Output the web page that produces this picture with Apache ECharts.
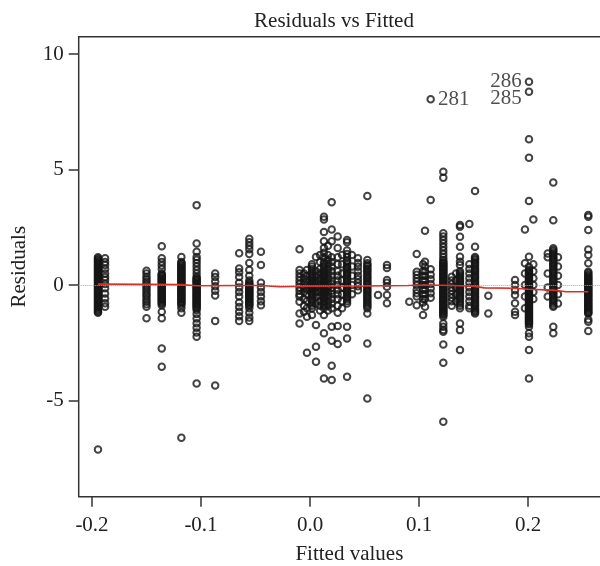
<!DOCTYPE html>
<html><head><meta charset="utf-8">
<script src="https://cdn.jsdelivr.net/npm/echarts@6/dist/echarts.min.js"></script>
<style>html,body{margin:0;padding:0;background:#fff}#chart{width:600px;height:566px}</style>
</head><body><div id="chart"></div>
<script>
// ---- data ----
const xTicks = [-0.2, -0.1, 0.0, 0.1, 0.2];
const yTicks = [-5, 0, 5, 10];

const fittedLevels = [
  -0.1945, -0.188, -0.150, -0.136, -0.118, -0.104, -0.087, -0.065, -0.0557, -0.045,
  -0.0096, -0.0055, -0.0028, 0.0018, 0.0055, 0.0092, 0.0128, 0.0165, 0.0199, 0.0254,
  0.0294, 0.034, 0.0385, 0.044, 0.0526, 0.0624, 0.0706,
  0.0911, 0.0979, 0.1037, 0.1055, 0.1107, 0.1223, 0.130, 0.134, 0.1376, 0.1462, 0.1514, 0.1636,
  0.1881, 0.1972, 0.2009, 0.2049, 0.2181, 0.2232, 0.2275, 0.2553
];
const c01 = [1.2, 1.15, 1.05, 0.95, 0.85, 0.75, 0.65, 0.55, 0.45, 0.35, 0.25, 0.15, 0.05, -0.05, -0.15, -0.25, -0.35, -0.45, -0.55, -0.65, -0.75, -0.85, -0.95, -1.05, -1.15, -1.2, -7.12];
const c02 = [1.16, 1.0, 0.87, 0.7, 0.5, 0.35, 0.22, 0.05, -0.14, -0.36, -0.58, -0.79, -0.94];
const c03 = [0.62, 0.5, 0.36, 0.25, 0.14, 0.03, -0.07, -0.18, -0.29, -0.4, -0.5, -0.61, -0.72, -0.83, -0.94, -1.44];
const c04 = [1.68, 1.16, 1.0, 0.85, 0.7, 0.5, 0.4, 0.3, 0.2, 0.1, 0.0, -0.1, -0.2, -0.3, -0.4, -0.5, -0.6, -0.7, -0.8, -0.87, -1.15, -1.44, -2.75, -3.54];
const c05 = [1.22, 1.0, 0.9, 0.8, 0.7, 0.6, 0.5, 0.4, 0.3, 0.2, 0.1, 0.0, -0.1, -0.2, -0.3, -0.4, -0.5, -0.6, -0.7, -0.8, -0.87, -1.0, -1.2, -6.61];
const c06 = [3.46, 1.8, 1.44, 1.22, 1.1, 0.95, 0.8, 0.65, 0.5, 0.36, 0.25, 0.15, 0.05, -0.05, -0.15, -0.25, -0.35, -0.45, -0.55, -0.65, -0.75, -0.85, -0.95, -1.08, -1.25, -1.45, -1.65, -1.85, -2.05, -2.24, -4.26];
const c07 = [0.5, 0.35, 0.15, -0.05, -0.25, -0.45, -1.55, -4.35];
const c08 = [1.38, 0.72, 0.55, 0.35, 0.1, -0.1, -0.3, -0.5, -0.75, -0.95, -1.15, -1.35, -1.55];
const c09 = [2.0, 1.85, 1.7, 1.55, 1.35, 0.95, 0.65, 0.4, 0.2, 0.1, 0.0, -0.1, -0.2, -0.3, -0.4, -0.5, -0.6, -0.7, -0.8, -0.9, -1.0, -1.2, -1.4, -1.55];
const c10 = [1.44, 0.87, 0.1, -0.1, -0.3, -0.5, -0.7, -0.87];
const c11 = [1.55, 0.65, 0.5, 0.35, 0.2, 0.05, -0.1, -0.25, -0.4, -0.5, -0.72, -1.23, -1.66];
const c12 = [0.5, 0.3, 0.1, -0.1, -0.3, -0.6, -0.9, -1.15];
const c13 = [0.65, 0.4, 0.2, 0.0, -0.2, -0.4, -0.7, -1.0, -1.37, -2.93];
const c14 = [0.9, 0.7, 0.5, 0.35, 0.2, 0.1, 0.0, -0.1, -0.2, -0.35, -0.5, -0.65, -0.8, -1.0, -1.3];
const c15 = [1.22, 0.6, 0.4, 0.2, 0.05, -0.1, -0.3, -0.5, -0.8, -1.73, -2.67, -3.32];
const c16 = [1.3, 1.0, 0.7, 0.5, 0.3, 0.15, 0.0, -0.15, -0.3, -0.5, -0.7, -0.9, -1.1];
const c17 = [2.96, 2.84, 2.3, 1.9, 1.6, 1.4, 1.2, 1.0, 0.8, 0.6, 0.45, 0.3, 0.15, 0.0, -0.15, -0.3, -0.45, -0.6, -0.8, -1.0, -1.3, -2.09, -4.04];
const c18 = [1.7, 1.3, 1.1, 0.9, 0.7, 0.5, 0.3, 0.1, -0.1, -0.3, -0.5, -0.7, -0.9, -1.1];
const c19 = [3.58, 2.4, 1.9, 1.2, 1.0, 0.8, 0.6, 0.4, 0.2, 0.05, -0.1, -0.25, -0.4, -0.6, -0.8, -1.0, -1.8, -2.41, -3.49, -4.11];
const c20 = [2.1, 1.6, 1.2, 0.9, 0.6, 0.4, 0.2, 0.0, -0.2, -0.4, -0.6, -0.9, -1.2, -1.77, -2.55];
const c21 = [1.3, 0.9, 0.5, 0.2, -0.1, -0.4, -0.7, -1.0];
const c22 = [1.95, 1.85, 1.5, 1.35, 1.2, 1.05, 0.9, 0.75, 0.6, 0.45, 0.3, 0.15, 0.0, -0.15, -0.3, -0.45, -0.6, -0.8, -1.8, -2.31, -3.97];
const c23 = [1.3, 0.8, 0.4, 0.0, -0.4];
const c24 = [1.16, 0.95, 0.79, 0.6, 0.4, 0.25, 0.1, -0.05, -0.22];
const c25 = [3.85, 1.08, 0.94, 0.8, 0.65, 0.5, 0.35, 0.2, 0.05, -0.1, -0.25, -0.4, -0.55, -0.7, -0.85, -1.0, -1.23, -2.53, -4.91];
const c26 = [-0.43];
const c27 = [0.87, 0.74, 0.22, 0.1, -0.07, -0.43, -0.79];
const c28 = [-0.72];
const c29 = [1.34, 0.58, 0.45, 0.3, 0.15, 0.0, -0.2, -0.35, -0.5, -0.87];
const c30 = [0.9, 0.6, 0.4, 0.2, 0.0, -0.2, -0.4, -0.6, -0.75, -1.3];
const c31 = [2.35, 1.01, 0.8, 0.6, 0.4, 0.2, 0.0, -0.2, -0.4, -0.6, -0.94];
const c32 = [3.68, 0.68, 0.45, 0.25, 0.05, -0.15, -0.35, -0.55];
const c33 = [4.9, 4.65, 2.24, 2.1, 1.95, 1.8, 1.65, 1.5, 1.35, 1.2, 1.08, 0.95, 0.85, 0.75, 0.65, 0.55, 0.45, 0.35, 0.25, 0.15, 0.05, -0.05, -0.15, -0.25, -0.35, -0.45, -0.55, -0.65, -0.75, -0.85, -0.95, -1.05, -1.15, -1.25, -1.37, -1.66, -1.8, -1.95, -2.02, -2.57, -3.36, -5.92];
const c34 = [0.36, 0.2, 0.05, -0.1, -0.25, -0.4, -0.55, -0.7, -0.9];
const c35 = [0.5, 0.2, -0.1, -0.4, -0.7];
const c36 = [2.6, 2.52, 2.09, 1.66, 1.23, 1.01, 0.87, 0.6, 0.45, 0.3, 0.15, 0.0, -0.15, -0.3, -0.45, -0.6, -0.8, -1.0, -1.66, -1.95, -2.81];
const c37 = [2.64, 0.9, 0.7, 0.5, 0.3, 0.1, -0.1, -0.3, -0.5, -0.7, -0.9, -1.0];
const c38 = [4.07, 1.66, 1.22, 1.1, 0.95, 0.8, 0.65, 0.5, 0.35, 0.2, 0.05, -0.1, -0.25, -0.4, -0.55, -0.7, -0.85, -1.0, -1.12, -1.23];
const c39 = [-0.46, -1.23];
const c40 = [0.22, 0.0, -0.22, -0.43, -0.79, -1.15, -1.3];
const c41 = [2.41, 0.94, 0.5, 0.0, -0.5, -1.0];
const c42 = [6.31, 5.51, 3.64, 1.23, 0.79, 0.65, 0.55, 0.45, 0.35, 0.25, 0.15, 0.05, -0.05, -0.15, -0.25, -0.35, -0.45, -0.55, -0.65, -0.75, -0.85, -0.95, -1.05, -1.15, -1.25, -1.35, -1.45, -1.55, -1.65, -1.8, -2.09, -2.24, -2.81, -4.04];
const c43 = [2.84, 0.9, 0.6, 0.3, 0.0, -0.3, -0.6];
const c44 = [1.37, 1.2, 0.5, -0.1, -0.5];
const c45 = [4.44, 2.81, 1.59, 1.45, 1.3, 1.15, 1.0, 0.85, 0.7, 0.55, 0.4, 0.25, 0.1, -0.05, -0.2, -0.35, -0.5, -0.65, -0.8, -0.94, -1.8, -2.09];
const c46 = [1.2, 0.8, 0.4, 0.0, -0.4, -0.8];
const c47 = [3.03, 2.96, 2.38, 1.54, 1.3, 0.94, 0.58, 0.45, 0.35, 0.25, 0.15, 0.05, -0.05, -0.15, -0.25, -0.35, -0.45, -0.55, -0.65, -0.75, -0.85, -0.95, -1.05, -1.15, -1.23, -1.49, -1.59, -1.99];
const residualsByLevel = [c01,c02,c03,c04,c05,c06,c07,c08,c09,c10,c11,c12,c13,c14,c15,c16,c17,c18,c19,c20,c21,c22,c23,c24,c25,c26,c27,c28,c29,c30,c31,c32,c33,c34,c35,c36,c37,c38,c39,c40,c41,c42,c43,c44,c45,c46,c47];

// further overlapping points in the solid-looking cores of the densest columns
const coreLevels = [-0.1945, -0.136, -0.118, -0.104, -0.0557, 0.0018, 0.0128, 0.034, 0.0526, 0.1223, 0.1376, 0.1514, 0.2009, 0.2232, 0.2553];
const d01 = [1.1, 1.0, 0.9, 0.8, 0.7, 0.6, 0.5, 0.4, 0.3, 0.2, 0.1, 0.0, -0.1, -0.2, -0.3, -0.4, -0.5, -0.6, -0.7, -0.8, -0.9, -1.0, -1.1];
const d02 = [0.45, 0.35, 0.25, 0.15, 0.05, -0.05, -0.15, -0.25, -0.35, -0.45, -0.55, -0.65, -0.75];
const d03 = [0.95, 0.85, 0.75, 0.65, 0.55, 0.45, 0.35, 0.25, 0.15, 0.05, -0.05, -0.15, -0.25, -0.35, -0.45, -0.55, -0.65, -0.75];
const d04 = [0.3, 0.2, 0.1, 0.0, -0.1, -0.2, -0.3, -0.4, -0.5, -0.6, -0.7, -0.8, -0.9, -1.0];
const d05 = [0.05, -0.05, -0.15, -0.25, -0.35, -0.45, -0.55, -0.65, -0.75, -0.85];
const d06 = [0.8, 0.6, 0.42, 0.28, 0.15, 0.05, -0.05, -0.15, -0.28, -0.42, -0.58, -0.72, -0.9];
const d07 = [0.9, 0.7, 0.5, 0.38, 0.22, 0.08, -0.08, -0.22, -0.38, -0.52, -0.7, -0.9];
const d08 = [1.0, 0.8, 0.68, 0.52, 0.38, 0.22, 0.08, -0.08, -0.22, -0.38, -0.52, -0.7];
const d09 = [0.87, 0.72, 0.58, 0.42, 0.28, 0.12, -0.02, -0.18, -0.32, -0.48, -0.62, -0.78, -0.92];
const d10 = [1.0, 0.9, 0.8, 0.7, 0.6, 0.5, 0.4, 0.3, 0.2, 0.1, 0.0, -0.1, -0.2, -0.3, -0.4, -0.5, -0.6, -0.7, -0.8, -0.9, -1.0, -1.1, -1.2, -1.3];
const d11 = [0.52, 0.38, 0.22, 0.08, -0.08, -0.22, -0.38, -0.52, -0.7, -0.9];
const d12 = [1.15, 1.02, 0.88, 0.72, 0.58, 0.42, 0.28, 0.12, -0.02, -0.18, -0.32, -0.48, -0.62, -0.78, -0.92, -1.06, -1.18];
const d13 = [0.6, 0.5, 0.4, 0.3, 0.2, 0.1, 0.0, -0.1, -0.2, -0.3, -0.4, -0.5, -0.6, -0.7, -0.8, -0.9, -1.0, -1.1, -1.2, -1.3, -1.4, -1.5, -1.6, -1.7];
const d14 = [1.52, 1.38, 1.22, 1.08, 0.92, 0.78, 0.62, 0.48, 0.32, 0.18, 0.02, -0.12, -0.28, -0.42, -0.58, -0.72, -0.88];
const d15 = [0.52, 0.4, 0.3, 0.2, 0.1, 0.0, -0.1, -0.2, -0.3, -0.4, -0.5, -0.6, -0.7, -0.8, -0.9, -1.0, -1.1, -1.2];
const coreResiduals = [d01,d02,d03,d04,d05,d06,d07,d08,d09,d10,d11,d12,d13,d14,d15];

// labelled outliers
const labelIds = ['281', '285', '286'];
const labelFitted = [0.1107, 0.2009, 0.2009];
const labelResid = [8.04, 8.37, 8.80];

// smoother (red line)
const smoothX = [-0.1945, -0.150, -0.118, -0.104, -0.065, -0.045, -0.028, 0.0, 0.050, 0.090, 0.110, 0.130, 0.150, 0.160, 0.188, 0.200, 0.223, 0.235, 0.2553];
const smoothY = [0.04, 0.03, 0.02, -0.03, -0.02, -0.02, -0.07, -0.05, -0.04, -0.02, 0.0, -0.02, -0.05, -0.12, -0.14, -0.18, -0.22, -0.29, -0.29];

// ---- build ----
const points = [];
fittedLevels.forEach((fx, i) => residualsByLevel[i].forEach(r => points.push([fx, r])));
coreLevels.forEach((fx, i) => coreResiduals[i].forEach(r => points.push([fx, r])));
const labelled = labelIds.map((id, i) => ({
  value: [labelFitted[i], labelResid[i]],
  name: id,
  label: id === '281' ? { position: 'right', distance: 3 }
       : id === '285' ? { position: 'left', distance: 3, offset: [0, 7] }
       : { position: 'left', distance: 3 }
}));
const smooth = smoothX.map((x, i) => [x, smoothY[i]]);

const FONT = "'Liberation Serif', 'Times New Roman', serif";
const TXT = '#222';
const chart = echarts.init(document.getElementById('chart'), null, { renderer: 'canvas' });
chart.setOption({
  animation: false,
  backgroundColor: '#fff',
  grid: { left: 78.7, top: 36.7, width: 541.3, height: 460, show: true, borderColor: '#333', borderWidth: 1.5, backgroundColor: 'transparent', containLabel: false, outerBoundsMode: 'none' },
  graphic: [{
    type: 'text', x: 334, y: 21,
    style: { text: 'Residuals vs Fitted', font: '21px ' + FONT, fill: TXT, align: 'center', verticalAlign: 'middle' }
  }],
  xAxis: {
    type: 'value', min: -0.2122, max: 0.2844,
    name: 'Fitted values', nameLocation: 'middle', nameGap: 47,
    nameTextStyle: { fontFamily: FONT, fontSize: 21, color: TXT },
    axisLine: { show: false, onZero: false },
    axisTick: { show: true, length: 10, customValues: xTicks, lineStyle: { color: '#333', width: 1.5 } },
    axisLabel: { customValues: xTicks, formatter: v => v.toFixed(1), fontFamily: FONT, fontSize: 21, color: TXT, margin: 18 },
    splitLine: { show: false }
  },
  yAxis: {
    type: 'value', min: -9.16, max: 10.75,
    name: 'Residuals', nameLocation: 'middle', nameGap: 49,
    nameTextStyle: { fontFamily: FONT, fontSize: 21, color: TXT },
    axisLine: { show: false, onZero: false },
    axisTick: { show: true, length: 10, customValues: yTicks, lineStyle: { color: '#333', width: 1.5 } },
    axisLabel: { customValues: yTicks, formatter: v => String(v), fontFamily: FONT, fontSize: 21, color: TXT, margin: 15 },
    splitLine: { show: false }
  },
  series: [
    {
      type: 'scatter', data: points, symbol: 'circle', symbolSize: 6.5, z: 2,
      itemStyle: { color: 'rgba(0,0,0,0)', borderColor: '#151515', borderWidth: 2 },
      markLine: {
        silent: true, symbol: 'none', label: { show: false },
        lineStyle: { color: '#aaa', type: 'dotted', width: 1 },
        data: [{ yAxis: 0 }]
      }
    },
    {
      type: 'scatter', data: labelled, symbol: 'circle', symbolSize: 6.5, z: 2,
      itemStyle: { color: 'rgba(0,0,0,0)', borderColor: '#151515', borderWidth: 2 },
      label: { show: true, formatter: p => p.name, fontFamily: FONT, fontSize: 21, color: TXT }
    },
    {
      type: 'line', data: smooth, showSymbol: false, z: 5,
      lineStyle: { color: '#d8312a', width: 1.6 }
    }
  ]
});
</script></body></html>
